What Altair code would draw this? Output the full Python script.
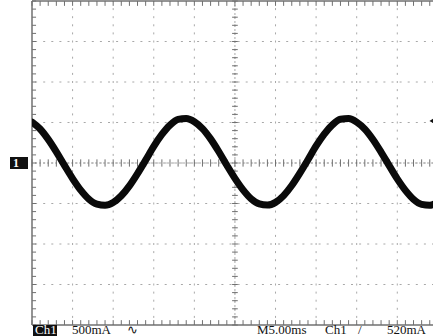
import altair as alt
import pandas as pd

# Sampled probe current (mA) every 1 ms across the screen
time_ms = list(range(0, 51))
current_ma = [
    505, 420, 292, 138, -30, -192, -335, -445, -508, -522,
    -488, -405, -282, -130, 35, 205, 352, 468, 538, 550,
    510, 425, 298, 142, -28, -190, -332, -442, -505, -520,
    -486, -402, -278, -125, 40, 210, 356, 470, 540, 548,
    505, 418, 290, 135, -32, -196, -338, -448, -510, -521,
    -486,
]

# Scope settings
ms_per_div = 5
ma_per_div = 500
trigger_ma = 520
readout_left = ["500mA", "\u223f"]
readout_right = ["M5.00ms", "Ch1", "/", "520mA"]

# Visible part of the 10 x 8 division screen
X_MAX = 49.4
Y_MIN, Y_MAX = -4 * ma_per_div, 4 * ma_per_div

xs = alt.Scale(domain=[0, X_MAX], nice=False, zero=False)
ys = alt.Scale(domain=[Y_MIN, Y_MAX], nice=False, zero=False)

GRID = "#a8a8a8"
BORDER = "#707070"

wave = pd.DataFrame({"t": time_ms, "i": current_ma})

# Dotted division lines
vgrid = pd.DataFrame({"t": [ms_per_div * k for k in range(1, 10)]})
hgrid = pd.DataFrame({"i": [ma_per_div * k for k in range(-3, 4)]})

v_lines = alt.Chart(vgrid).mark_rule(
    color=GRID, strokeWidth=1, strokeDash=[2, 6.1], strokeDashOffset=1
).encode(x=alt.X("t:Q", scale=xs, axis=None))

h_lines = alt.Chart(hgrid).mark_rule(
    color=GRID, strokeWidth=1, strokeDash=[2, 6.1], strokeDashOffset=1
).encode(y=alt.Y("i:Q", scale=ys, axis=None))

# Minor ticks on the centre cross and on the border
minor_t = [k * ms_per_div / 5 for k in range(0, 50)]
minor_i = [k * ma_per_div / 5 for k in range(-20, 21)]

ticks_h_center = pd.DataFrame({"t": minor_t, "a": -45, "b": 45})
ticks_v_center = pd.DataFrame({"i": minor_i, "a": 25 - 0.35, "b": 25 + 0.35})
ticks_left = pd.DataFrame({"i": minor_i, "a": 0, "b": 0.5})
ticks_top = pd.DataFrame({"t": minor_t, "a": Y_MAX, "b": Y_MAX - 60})
ticks_bottom = pd.DataFrame({"t": minor_t, "a": Y_MIN, "b": Y_MIN + 60})


def hticks(df):
    return alt.Chart(df).mark_rule(color=BORDER, strokeWidth=1).encode(
        x=alt.X("a:Q", scale=xs, axis=None),
        x2="b:Q",
        y=alt.Y("i:Q", scale=ys, axis=None),
    )


def vticks(df):
    return alt.Chart(df).mark_rule(color=BORDER, strokeWidth=1).encode(
        x=alt.X("t:Q", scale=xs, axis=None),
        y=alt.Y("a:Q", scale=ys, axis=None),
        y2="b:Q",
    )


center_h = alt.Chart(pd.DataFrame({"i": [0]})).mark_rule(
    color=GRID, strokeWidth=1, strokeDash=[2, 2]
).encode(y=alt.Y("i:Q", scale=ys, axis=None))
center_v = alt.Chart(pd.DataFrame({"t": [25]})).mark_rule(
    color=GRID, strokeWidth=1, strokeDash=[2, 2]
).encode(x=alt.X("t:Q", scale=xs, axis=None))

border_left = alt.Chart(pd.DataFrame({"t": [0]})).mark_rule(
    color=BORDER, strokeWidth=1.5
).encode(x=alt.X("t:Q", scale=xs, axis=None))
border_tb = alt.Chart(pd.DataFrame({"i": [Y_MIN, Y_MAX]})).mark_rule(
    color=BORDER, strokeWidth=1.5
).encode(y=alt.Y("i:Q", scale=ys, axis=None))

trace = alt.Chart(wave).mark_line(
    color="#0a0a0a", strokeWidth=7, interpolate="monotone", clip=True,
    strokeCap="round", strokeJoin="round",
).encode(
    x=alt.X("t:Q", scale=xs, axis=None),
    y=alt.Y("i:Q", scale=ys, axis=None),
)

# Channel ground marker on the left edge
gnd_box = alt.Chart(pd.DataFrame({"i": [0]})).mark_rect(color="#111").encode(
    x=alt.value(-22), x2=alt.value(-4),
    y=alt.value(156), y2=alt.value(168),
)
gnd_text = alt.Chart(pd.DataFrame({"i": [0], "s": ["1"]})).mark_text(
    color="white", font="Liberation Serif", fontSize=12, fontWeight="bold",
    baseline="middle", align="center",
).encode(x=alt.value(-16), y=alt.Y("i:Q", scale=ys, axis=None), text="s:N")

# Trigger level marker on the right edge
trig = alt.Chart(pd.DataFrame({"i": [trigger_ma]})).mark_point(
    shape="triangle-left", filled=True, color="#111", size=35, opacity=1
).encode(x=alt.value(400), y=alt.Y("i:Q", scale=ys, axis=None))

# Bottom readout
ch_box = alt.Chart(pd.DataFrame({"i": [0]})).mark_rect(color="#111").encode(
    x=alt.value(1), x2=alt.value(25), y=alt.value(324), y2=alt.value(335),
)
FONT = dict(font="Liberation Serif", fontSize=13, baseline="alphabetic", align="left")
ch_text = alt.Chart(pd.DataFrame({"s": ["Ch1"]})).mark_text(
    color="white", **FONT
).encode(x=alt.value(3), y=alt.value(333), text="s:N")

readout = pd.DataFrame({
    "s": readout_left + readout_right,
    "px": [40, 95, 225, 293, 326, 355],
})
readout_text = alt.Chart(readout).mark_text(color="#111", **FONT).encode(
    x=alt.X("px:Q", scale=None), y=alt.value(333), text="s:N"
)

chart = alt.layer(
    v_lines, h_lines, center_h, center_v,
    hticks(ticks_v_center), vticks(ticks_h_center),
    hticks(ticks_left), vticks(ticks_top), vticks(ticks_bottom),
    border_left, border_tb,
    trace, gnd_box, gnd_text, trig, ch_box, ch_text, readout_text,
).properties(
    width=401, height=324,
    autosize=alt.AutoSizeParams(type="none"),
    padding={"left": 32, "top": 1, "right": 0, "bottom": 11},
    background="white",
).configure_view(stroke=None)

chart.save("out.html", embed_options={"renderer": "svg", "actions": False})
